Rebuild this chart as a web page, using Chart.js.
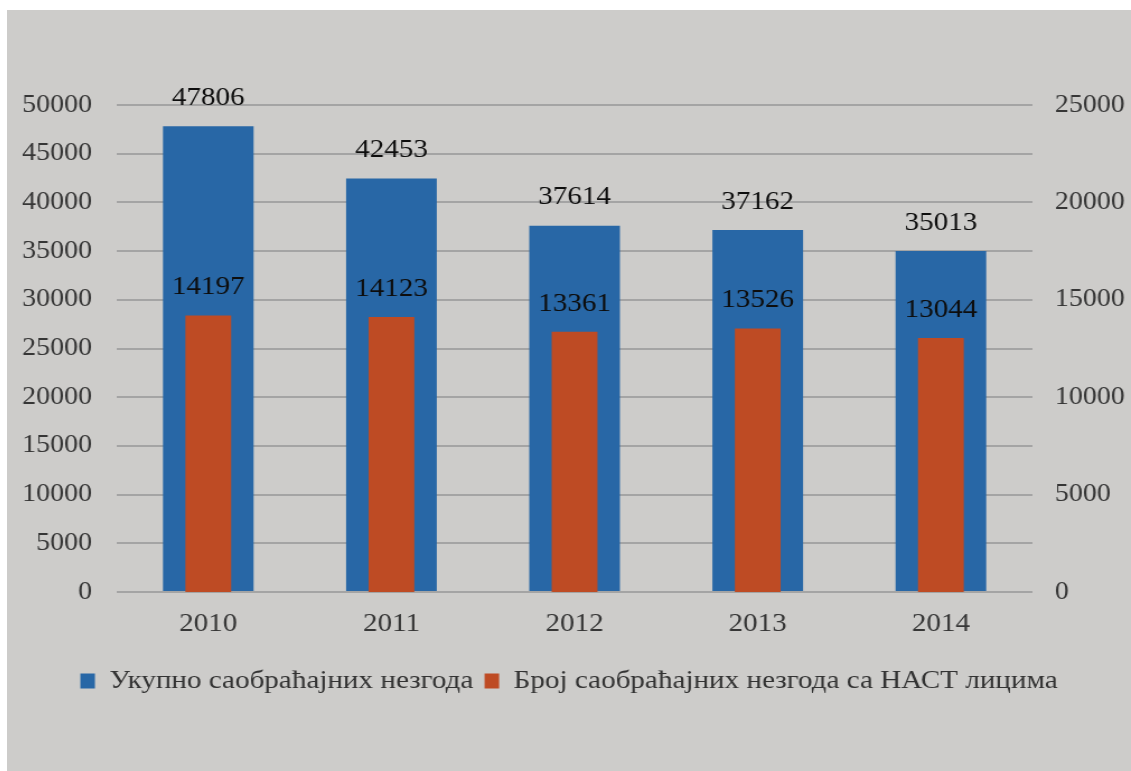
<!DOCTYPE html>
<html>
<head>
<meta charset="utf-8">
<script src="https://cdn.jsdelivr.net/npm/chart.js@4.4.1/dist/chart.umd.min.js"></script>
<style>
  html, body { margin: 0; padding: 0; background: #ffffff; }
  #frame {
    position: absolute; left: 7px; top: 10px;
    width: 1124px; height: 761px;
    background: #cdccca; overflow: hidden;
  }
  /* the source picture is stretched sideways, so the chart is too */
  #wrap {
    position: absolute; left: 0; top: 0;
    width: 1004px; height: 761px;
    transform: scaleX(1.1195); transform-origin: 0 0;
  }
</style>
</head>
<body>
<div id="frame"><div id="wrap"><canvas id="chart"></canvas></div></div>
<script>
// data
const years = ['2010', '2011', '2012', '2013', '2014'];
const totalAccidents = [47806, 42453, 37614, 37162, 35013];
const nastAccidents = [14197, 14123, 13361, 13526, 13044];
const seriesNames = ['Укупно саобраћајних незгода', 'Број саобраћајних незгода са НАСТ лицима'];

const serif = '"Liberation Serif", "Times New Roman", serif';

// numbers above every bar
const valueLabels = {
  id: 'valueLabels',
  afterDatasetsDraw(chart) {
    const ctx = chart.ctx;
    ctx.save();
    ctx.font = '26px ' + serif;
    ctx.fillStyle = '#0d0d0d';
    ctx.textAlign = 'center';
    ctx.textBaseline = 'middle';
    chart.data.datasets.forEach((ds, i) => {
      chart.getDatasetMeta(i).data.forEach((bar, j) => {
        ctx.fillText(String(ds.data[j]), bar.x, bar.y - 28);
      });
    });
    ctx.restore();
  }
};

const plain = (v) => String(v);

new Chart(document.getElementById('chart'), {
  type: 'bar',
  data: {
    labels: years,
    datasets: [
      {
        label: seriesNames[0],
        data: totalAccidents,
        yAxisID: 'y',
        backgroundColor: '#2867a6',
        grouped: false,
        categoryPercentage: 1,
        barPercentage: 0.495,
        order: 1
      },
      {
        label: seriesNames[1],
        data: nastAccidents,
        yAxisID: 'y2',
        backgroundColor: '#be4b24',
        grouped: false,
        categoryPercentage: 1,
        barPercentage: 0.25,
        order: 0
      }
    ]
  },
  options: {
    responsive: true,
    maintainAspectRatio: false,
    animation: false,
    layout: { padding: { top: 95, bottom: 67, left: 0, right: 0 } },
    plugins: {
      tooltip: { enabled: false },
      legend: {
        position: 'bottom',
        labels: {
          font: { family: serif, size: 26 },
          color: '#333333',
          boxWidth: 13,
          boxHeight: 15,
          padding: 10,
          sort: (a, b) => a.datasetIndex - b.datasetIndex
        }
      }
    },
    scales: {
      x: {
        grid: { display: false, drawTicks: false },
        border: { display: false },
        ticks: { font: { family: serif, size: 26 }, color: '#363636', padding: 17 },
        afterFit: (s) => { s.height = 66; }
      },
      y: {
        position: 'left',
        min: 0, max: 50000,
        ticks: { stepSize: 5000, callback: plain, font: { family: serif, size: 25 }, color: '#363636', padding: 22 },
        grid: { color: '#a4a4a4', lineWidth: 2, drawTicks: false },
        border: { display: false },
        afterFit: (s) => { s.width = 98; }
      },
      y2: {
        position: 'right',
        min: 0, max: 25000,
        ticks: { stepSize: 5000, callback: plain, font: { family: serif, size: 25 }, color: '#363636', padding: 20 },
        grid: { display: false, drawTicks: false },
        border: { display: false },
        afterFit: (s) => { s.width = 88; }
      }
    }
  },
  plugins: [valueLabels]
});
</script>
</body>
</html>
